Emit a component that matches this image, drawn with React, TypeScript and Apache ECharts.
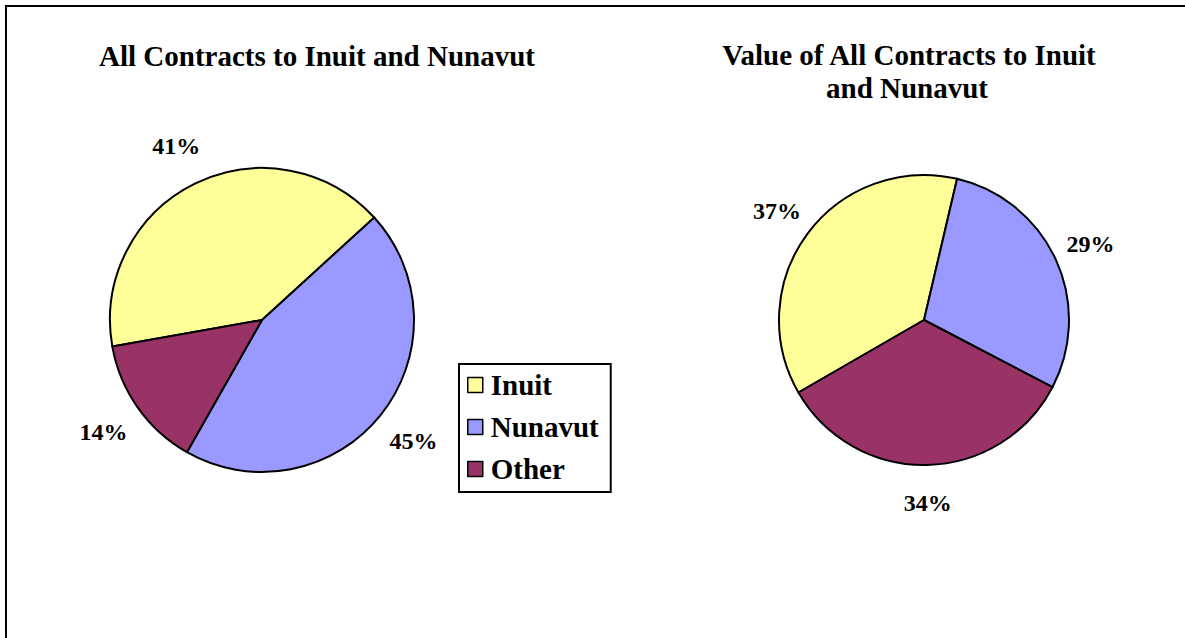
import React, { useEffect, useRef } from "react";
import * as echarts from "echarts";

const categories = ["Inuit", "Nunavut", "Other"];
const countShares = [41, 45, 14];
const valueShares = [37, 29, 34];
const colors = ["#FFFF99", "#9999FF", "#993366"];
const leftTitle = "All Contracts to Inuit and Nunavut";
const rightTitleLines = ["Value of All Contracts to Inuit", "and Nunavut"];

const FONT = "Liberation Serif";

export default function App() {
  const ref = useRef<HTMLDivElement>(null);
  useEffect(() => {
    document.body.style.margin = "0";
    if (!ref.current) return;
    const chart = echarts.init(ref.current, undefined, { renderer: "svg" });
    const mk = (vals: number[]) =>
      categories.map((name, i) => ({ name, value: vals[i], itemStyle: { color: colors[i] } }));
    const ghost = (vals: number[]) =>
      categories.map((name, i) => ({ name, value: vals[i] }));
    const labelStyle = {
      show: true,
      position: "inside",
      rotate: 0,
      formatter: (p: any) => Math.round(p.percent) + "%",
      fontFamily: FONT,
      fontWeight: "bold",
      fontSize: 24,
      color: "#000",
    };
    const mainPie = (center: number[], r: number, start: number, vals: number[]) => ({
      type: "pie",
      center,
      radius: r,
      startAngle: start,
      clockwise: true,
      silent: true,
      label: { show: false },
      labelLine: { show: false },
      itemStyle: { borderColor: "#000", borderWidth: 2 },
      emphasis: { disabled: true },
      data: mk(vals),
    });
    const labelPie = (center: number[], radius: number[], start: number, vals: number[]) => ({
      type: "pie",
      center,
      radius,
      startAngle: start,
      clockwise: true,
      silent: true,
      legendHoverLink: false,
      itemStyle: { color: "rgba(0,0,0,0)", borderWidth: 0 },
      label: labelStyle,
      labelLine: { show: false },
      emphasis: { disabled: true },
      data: ghost(vals),
    });
    const titleText = (text: string, x: number, y: number) => ({
      type: "text",
      x,
      y,
      style: {
        text,
        fontFamily: FONT,
        fontWeight: "bold",
        fontSize: 29,
        fill: "#000",
        align: "center",
        verticalAlign: "middle",
      },
    });
    chart.setOption({
      animation: false,
      backgroundColor: "#fff",
      legend: {
        orient: "vertical",
        left: 459,
        top: 364,
        data: categories,
        icon: "rect",
        itemWidth: 15,
        itemHeight: 15,
        itemGap: 12,
        padding: [6, 12, 8, 8],
        borderColor: "#000",
        borderWidth: 2,
        selectedMode: false,
        itemStyle: { borderColor: "#000", borderWidth: 1.5 },
        textStyle: {
          fontFamily: FONT,
          fontWeight: "bold",
          fontSize: 29,
          color: "#000",
          lineHeight: 30,
          padding: [0, 0, 0, 3],
        },
      },
      graphic: [
        {
          type: "rect",
          shape: { x: 6, y: 6, width: 1300, height: 800 },
          style: { fill: "none", stroke: "#000", lineWidth: 2 },
          silent: true,
        },
        titleText(leftTitle, 317, 56),
        titleText(rightTitleLines[0], 909, 55),
        titleText(rightTitleLines[1], 907, 88),
      ],
      series: [
        mainPie([262, 320], 152, 190, countShares),
        mainPie([924, 320], 145, 210, valueShares),
        labelPie([262, 320], [181, 201], 190, countShares),
        labelPie([924, 320], [170, 190], 210, valueShares),
      ],
    });
    return () => chart.dispose();
  }, []);
  return <div ref={ref} style={{ width: 1185, height: 638 }} />;
}
